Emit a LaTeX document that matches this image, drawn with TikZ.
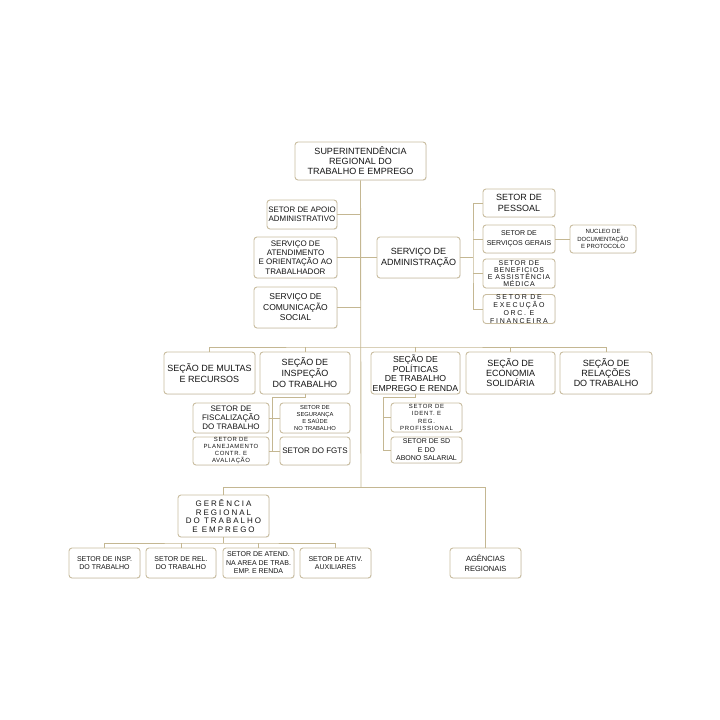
\documentclass[tikz,border=0pt]{standalone}
\usepackage{fontspec}
\setmainfont{Liberation Sans}
\usetikzlibrary{shadows}
\definecolor{boxline}{HTML}{C9BDA0}
\definecolor{conline}{HTML}{C4B792}

\begin{document}
\begin{tikzpicture}[x=1pt,y=-1pt,
    box/.style 2 args={draw=boxline,line width=.9pt,rounded corners=3pt,fill=white,
	drop shadow={shadow xshift=.7pt,shadow yshift=-.7pt,opacity=.15},
	inner sep=0pt,align=center,text=black!92,
	minimum width=#1pt,minimum height=#2pt},
    fs/.style 2 args={font=\fontsize{#1}{#2}\selectfont},
    sp/.style n args={3}{font=\fontsize{#1}{#2}\selectfont\addfontfeature{LetterSpace=#3}},
    conn/.style={draw=conline,line width=.9pt}]
\useasboundingbox (0,0) rectangle (720,720);
\path
    (360.5,161) node (sup) [box={131}{38},fs={9}{10}]
	{SUPERINTENDÊNCIA\\REGIONAL DO\\TRABALHO E EMPREGO}
    (302,214.5) node (apoio) [box={70}{29},fs={7.9}{9.5}]
	{SETOR DE APOIO\\ADMINISTRATIVO}
    (295.5,257.5) node (atend) [box={83}{41},fs={8}{9.3}]
	{SERVIÇO DE\\ATENDIMENTO\\E ORIENTAÇÃO AO\\TRABALHADOR}
    (295.5,307.5) node (comun) [box={83}{41},fs={8.5}{10.5}]
	{SERVIÇO DE\\COMUNICAÇÃO\\SOCIAL}
    (418.5,257.5) node (adm) [box={83}{41},fs={9}{11}]
	{SERVIÇO DE\\ADMINISTRAÇÃO}
    (519,203) node (pessoal) [box={72}{28},fs={9}{11.5}] {SETOR DE\\PESSOAL}
    (519,239) node (gerais) [box={72}{28},fs={7}{10.5}]
	{SETOR DE\\SERVIÇOS GERAIS}
    (603,239) node (nucleo) [box={66}{28},fs={6}{7.3}]
	{NUCLEO DE\\DOCUMENTAÇÃO\\E PROTOCOLO}
    (519,273.5) node (benef) [box={72}{29},sp={7}{7}{12}]
	{SETOR DE\\BENEFICIOS\\E ASSISTÊNCIA\\MÉDICA}
    (519,309) node (exec) [box={72}{28},sp={7}{8}{24}]
	{SETOR DE\\EXECUÇÃO\\ORC. E\\FINANCEIRA};
\path
    (209.5,373) node (multas) [box={91}{42},fs={9}{11}]
	{SEÇÃO DE MULTAS\\E RECURSOS}
    (305,373) node (insp) [box={90}{42},fs={9}{11}]
	{SEÇÃO DE\\INSPEÇÃO\\DO TRABALHO}
    (415.5,373) node (polit) [box={89}{42},fs={8.7}{9.5}]
	{SEÇÃO DE\\POLÍTICAS\\DE TRABALHO\\EMPREGO E RENDA}
    (510.5,373) node (econ) [box={89}{42},fs={9}{10}]
	{SEÇÃO DE\\ECONOMIA\\SOLIDÁRIA}
    (606,373) node (rel) [box={92}{42},fs={9}{10}]
	{SEÇÃO DE\\RELAÇÕES\\DO TRABALHO}
    (231,418) node (fisc) [box={76}{30},fs={8}{9}]
	{SETOR DE\\FISCALIZAÇÃO\\DO TRABALHO}
    (315,418) node (segur) [box={70}{30},fs={5.8}{7.3}]
	{SETOR DE\\SEGURANÇA\\E SAÚDE\\NO TRABALHO}
    (231,451) node (plan) [box={76}{28},sp={6}{7}{10}]
	{SETOR DE\\PLANEJAMENTO\\CONTR. E\\AVALIAÇÃO}
    (315,451) node (fgts) [box={70}{28},fs={8}{9}] {SETOR DO FGTS}
    (426.5,417.5) node (ident) [box={71}{29},sp={6}{7.3}{13}]
	{SETOR DE\\IDENT. E\\REG.\\PROFISSIONAL}
    (426.5,450) node (sd) [box={71}{26},fs={7}{8.5}]
	{SETOR DE SD\\E DO\\ABONO SALARIAL};
\path
    (223.5,516) node (ger) [box={91}{42},sp={8}{8.7}{25}]
	{GERÊNCIA\\REGIONAL\\DO TRABALHO\\E EMPREGO}
    (485.5,563) node (agenc) [box={71}{30},fs={7.5}{10}]
	{AGÊNCIAS\\REGIONAIS}
    (104.5,563) node (sinsp) [box={71}{30},fs={7}{8.7}]
	{SETOR DE INSP.\\DO TRABALHO}
    (181,563) node (srel) [box={70}{30},fs={7}{8.7}]
	{SETOR DE REL.\\DO TRABALHO}
    (258.5,563) node (satend) [box={71}{30},fs={7}{8.5}]
	{SETOR DE ATEND.\\NA AREA DE TRAB.\\EMP. E RENDA}
    (335.5,563) node (sativ) [box={71}{30},fs={7}{8.7}]
	{SETOR DE ATIV.\\AUXILIARES};
\coordinate (bar) at (361,347);
\coordinate (foot) at (361,487);
\coordinate (rb) at (473,257.5);
\coordinate (ik) at (272,397);
\coordinate (pk) at (383,397);
\coordinate (gk) at (223.5,543);
\draw [conn] (sup.south) -- (foot);
\draw [conn] (apoio.east) -- (apoio.east -| foot);
\draw [conn] (atend.east) -- (adm.west);
\draw [conn] (comun.east) -- (comun.east -| foot);
\draw [conn] (adm.east) -- (rb);
\draw [conn] (pessoal.west) -| (rb) |- (exec.west);
\draw [conn] (gerais.west) -- (gerais.west -| rb);
\draw [conn] (benef.west) -- (benef.west -| rb);
\draw [conn] (gerais.east) -- (nucleo.west);
\draw [conn] (multas.north) |- (bar) -| (rel.north);
\draw [conn] (insp.north) -- (insp.north |- bar);
\draw [conn] (polit.north) -- (polit.north |- bar);
\draw [conn] (econ.north) -- (econ.north |- bar);
\draw [conn] (insp.south) |- (ik) |- (plan.east);
\draw [conn] (fisc.east) -- (segur.west);
\draw [conn] (plan.east) -- (fgts.west);
\draw [conn] (polit.south) |- (pk) |- (sd.west);
\draw [conn] (pk |- ident.west) -- (ident.west);
\draw [conn] (foot) -| (ger.north);
\draw [conn] (foot) -| (agenc.north);
\draw [conn] (ger.south) -- (gk);
\draw [conn] (sinsp.north) |- (gk) -| (sativ.north);
\draw [conn] (srel.north) -- (srel.north |- gk);
\draw [conn] (satend.north) -- (satend.north |- gk);
\end{tikzpicture}
\end{document}
